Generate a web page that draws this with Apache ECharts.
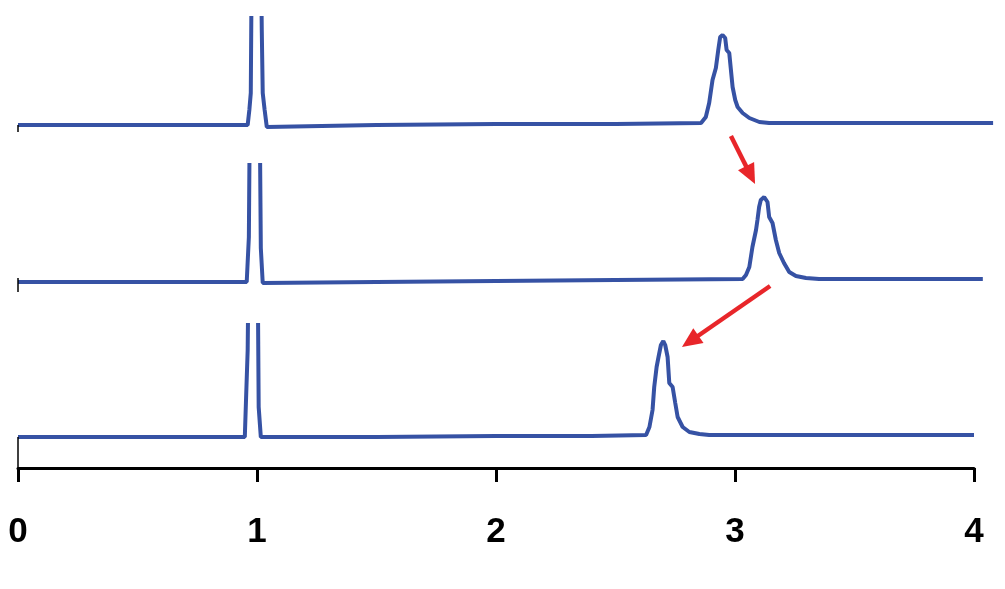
<!DOCTYPE html>
<html>
<head>
<meta charset="utf-8">
<script src="https://cdn.jsdelivr.net/npm/echarts@6/dist/echarts.min.js"></script>
<style>
html,body{margin:0;padding:0;background:#fff;}
#chart{width:1005px;height:589px;}
</style>
</head>
<body>
<div id="chart"></div>
<script>
// ---- data (x in axis units, y in arbitrary intensity, baseline ~0) ----
var topX = [0, 0.961, 0.968, 0.974, 0.982, 1.011, 1.020, 1.024, 1.032, 1.041, 1.5, 2.0, 2.5, 2.858, 2.878, 2.892, 2.906, 2.920, 2.930, 2.938, 2.948, 2.959, 2.965, 2.976, 2.983, 2.990, 3.001, 3.011, 3.032, 3.060, 3.102, 3.143, 3.5, 4.08];
var topY = [0, 0, 0.15, 0.32, 3, 3, 0.95, 0.32, 0.15, -0.02, 0, 0.01, 0.01, 0.02, 0.08, 0.22, 0.45, 0.57, 0.75, 0.88, 0.90, 0.87, 0.75, 0.72, 0.55, 0.38, 0.25, 0.18, 0.12, 0.07, 0.03, 0.02, 0.02, 0.02];

var midX = [0, 0.957, 0.966, 0.974, 1.007, 1.016, 1.024, 1.5, 2.0, 2.5, 3.032, 3.046, 3.060, 3.073, 3.088, 3.094, 3.101, 3.108, 3.122, 3.136, 3.143, 3.157, 3.171, 3.185, 3.205, 3.227, 3.255, 3.297, 3.352, 3.7, 4.037];
var midY = [0, 0, 0.45, 3, 3, 0.34, -0.01, 0, 0.01, 0.02, 0.03, 0.07, 0.15, 0.35, 0.52, 0.62, 0.75, 0.82, 0.85, 0.80, 0.65, 0.59, 0.42, 0.29, 0.19, 0.10, 0.06, 0.04, 0.03, 0.03, 0.03];

var botX = [0, 0.949, 0.955, 0.961, 0.970, 0.999, 1.007, 1.016, 1.5, 2.0, 2.4, 2.628, 2.642, 2.655, 2.662, 2.672, 2.680, 2.690, 2.700, 2.708, 2.718, 2.725, 2.739, 2.750, 2.760, 2.781, 2.809, 2.851, 2.892, 3.5, 4.0];
var botY = [0, 0, 0.44, 0.87, 3, 3, 0.30, 0, 0, 0.01, 0.01, 0.02, 0.10, 0.27, 0.50, 0.70, 0.80, 0.92, 0.96, 0.92, 0.80, 0.54, 0.50, 0.34, 0.20, 0.10, 0.05, 0.03, 0.02, 0.02, 0.02];

var tickLabels = ['0', '1', '2', '3', '4'];

// arrows: [panel, x, y] tail -> tip
var arrows = [
  { from: [0, 2.983, -0.11], to: [1, 3.084, 0.98] },
  { from: [1, 3.147, -0.04], to: [2, 2.778, 0.90] }
];

var BLUE = '#3652a4';
var RED = '#e8262a';

function pairs(xs, ys) { return xs.map(function (x, i) { return [x, ys[i]]; }); }

var chart = echarts.init(document.getElementById('chart'));

function stub(y0, y1) {
  return {
    silent: true, symbol: 'none', animation: false,
    label: { show: false },
    lineStyle: { color: '#000', width: 1.5, type: 'solid' },
    data: [[{ coord: [0, y0] }, { coord: [0, y1] }]]
  };
}

function lineSeries(i, xs, ys, mark) {
  return {
    type: 'line', xAxisIndex: i, yAxisIndex: i,
    data: pairs(xs, ys), showSymbol: false, symbol: 'none',
    clip: true, animation: false,
    lineStyle: { color: BLUE, width: 4 },
    markLine: mark, z: 3
  };
}

var hiddenX = { type: 'value', min: 0, max: 4.08, show: false };
var option = {
  animation: false,
  grid: [
    { left: 18, right: 11.9, top: 18, height: 122 },
    { left: 18, right: 11.9, top: 165, height: 132 },
    { left: 18, right: 31, top: 325, height: 143 }
  ],
  xAxis: [
    Object.assign({ gridIndex: 0 }, hiddenX),
    Object.assign({ gridIndex: 1 }, hiddenX),
    {
      gridIndex: 2, type: 'value', min: 0, max: 4, interval: 1,
      axisLine: { show: true, onZero: false, lineStyle: { color: '#000', width: 3 } },
      axisTick: { show: true, length: 14, lineStyle: { color: '#000', width: 3 } },
      splitLine: { show: false },
      axisLabel: {
        margin: 47, color: '#000', fontSize: 35, fontWeight: 'bold',
        fontFamily: 'Liberation Sans, Arial, sans-serif',
        formatter: function (v) { return tickLabels[Math.round(v)]; }
      }
    }
  ],
  yAxis: [
    { gridIndex: 0, type: 'value', min: -0.15, max: 1.07, show: false },
    { gridIndex: 1, type: 'value', min: -0.15, max: 1.17, show: false },
    { gridIndex: 2, type: 'value', min: -0.31, max: 1.12, show: false }
  ],
  series: [
    lineSeries(0, topX, topY, stub(0, -0.07)),
    lineSeries(1, midX, midY, stub(0.04, -0.10)),
    lineSeries(2, botX, botY, stub(0, -0.31))
  ]
};
chart.setOption(option);

function px(p) { return chart.convertToPixel({ xAxisIndex: p[0], yAxisIndex: p[0] }, [p[1], p[2]]); }
var graphics = [];
arrows.forEach(function (a) {
  var t = px(a.from), h = px(a.to);
  var dx = h[0] - t[0], dy = h[1] - t[1];
  var len = Math.sqrt(dx * dx + dy * dy);
  var ux = dx / len, uy = dy / len;
  var hl = 20, hw = 9;
  var bx = h[0] - ux * hl, by = h[1] - uy * hl;
  graphics.push({
    type: 'line', silent: true,
    shape: { x1: t[0], y1: t[1], x2: bx + ux * 2, y2: by + uy * 2 },
    style: { stroke: RED, lineWidth: 4.5 }
  });
  graphics.push({
    type: 'polygon', silent: true,
    shape: { points: [[h[0], h[1]], [bx - uy * hw, by + ux * hw], [bx + uy * hw, by - ux * hw]] },
    style: { fill: RED }
  });
});
chart.setOption({ graphic: graphics });
</script>
</body>
</html>
